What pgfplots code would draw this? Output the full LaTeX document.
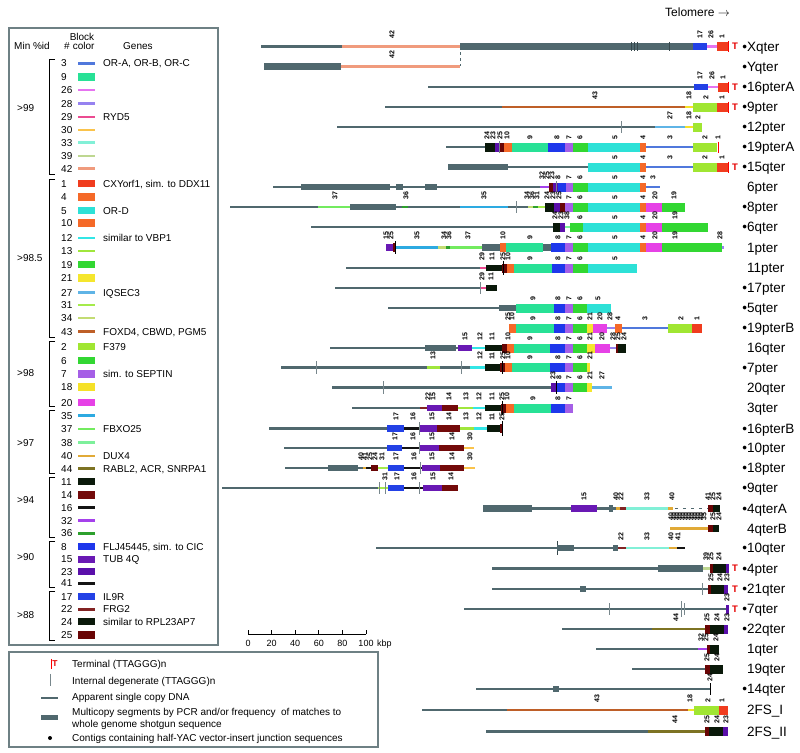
\documentclass[border=0pt]{standalone}
\usepackage{pgfplots}
\pgfplotsset{compat=1.18}
\usepackage{fontspec}
\setmainfont{Liberation Sans}
\definecolor{dna}{RGB}{80,104,110}
\definecolor{dnad}{RGB}{55,72,76}
\definecolor{dnal}{RGB}{120,135,140}
\definecolor{boxc}{RGB}{110,128,132}
\definecolor{b1}{RGB}{240,60,30}
\definecolor{b2}{RGB}{160,230,50}
\definecolor{b3}{RGB}{80,120,220}
\definecolor{b4}{RGB}{245,105,40}
\definecolor{b5}{RGB}{45,225,215}
\definecolor{b6}{RGB}{50,215,50}
\definecolor{b7}{RGB}{165,95,230}
\definecolor{b8}{RGB}{30,55,235}
\definecolor{b9}{RGB}{40,225,150}
\definecolor{b10}{RGB}{245,105,40}
\definecolor{b11}{RGB}{10,25,10}
\definecolor{b12}{RGB}{50,230,230}
\definecolor{b13}{RGB}{160,230,60}
\definecolor{b14}{RGB}{115,10,10}
\definecolor{b15}{RGB}{105,25,180}
\definecolor{b16}{RGB}{20,20,20}
\definecolor{b17}{RGB}{35,65,230}
\definecolor{b18}{RGB}{245,225,40}
\definecolor{b19}{RGB}{50,215,50}
\definecolor{b20}{RGB}{230,65,230}
\definecolor{b21}{RGB}{245,230,45}
\definecolor{b22}{RGB}{130,35,35}
\definecolor{b23}{RGB}{90,15,170}
\definecolor{b24}{RGB}{10,25,10}
\definecolor{b25}{RGB}{105,5,5}
\definecolor{b26}{RGB}{230,115,240}
\definecolor{b27}{RGB}{95,180,230}
\definecolor{b28}{RGB}{150,130,240}
\definecolor{b29}{RGB}{235,75,145}
\definecolor{b30}{RGB}{250,195,75}
\definecolor{b31}{RGB}{165,235,75}
\definecolor{b32}{RGB}{165,65,235}
\definecolor{b33}{RGB}{130,240,215}
\definecolor{b34}{RGB}{195,220,115}
\definecolor{b35}{RGB}{45,170,225}
\definecolor{b36}{RGB}{45,160,45}
\definecolor{b37}{RGB}{115,235,95}
\definecolor{b38}{RGB}{125,240,155}
\definecolor{b39}{RGB}{190,215,145}
\definecolor{b40}{RGB}{225,170,55}
\definecolor{b41}{RGB}{20,20,20}
\definecolor{b42}{RGB}{240,155,125}
\definecolor{b43}{RGB}{190,95,40}
\definecolor{b44}{RGB}{125,115,35}
% thin line, block, small block, multicopy
\newcommand{\tl}[4]{\addplot[draw=#4,line width=2.3pt] coordinates {(#1,#3) (#2,#3)};}
\newcommand{\bk}[4]{\addplot[draw=#4,line width=9pt] coordinates {(#1,#3) (#2,#3)};}
\newcommand{\bs}[4]{\addplot[draw=#4,line width=6.5pt] coordinates {(#1,#3) (#2,#3)};}
\newcommand{\mc}[3]{\addplot[draw=dna,line width=6.5pt] coordinates {(#1,#3) (#2,#3)};}
\newcommand{\dv}[3]{\addplot[draw=dnal,line width=0.8pt] coordinates {(#1,#2) (#1,#3)};}
\newcommand{\dd}[3]{\addplot[draw=dnad,line width=0.8pt] coordinates {(#1,#2) (#1,#3)};}
\newcommand{\kv}[3]{\addplot[draw=black,line width=0.8pt] coordinates {(#1,#2) (#1,#3)};}
\newcommand{\tv}[3]{\addplot[draw=red,line width=1pt] coordinates {(#1,#2) (#1,#3)};}
% legend swatches
\newcommand{\lt}[2]{\addplot[draw=#2,line width=2.5pt] coordinates {(78,#1) (95,#1)};}
\newcommand{\lb}[2]{\addplot[draw=#2,line width=7.5pt] coordinates {(78,#1) (95,#1)};}
% labels
\newcommand{\lf}{\fontsize{7}{7}\selectfont\bfseries}
\newcommand{\labs}[2]{\foreach \xx/\tt in {#2} {\node[rotate=90,anchor=west,inner sep=0pt,font=\lf] at (\xx,#1-7.5) {\tt};}}
\newcommand{\rld}[2]{\node[anchor=base west,inner sep=0pt,font=\fontsize{13.5}{13.5}\selectfont] at (747,#1+4.6) {\llap{\textbullet}#2};}
\newcommand{\rln}[2]{\node[anchor=base west,inner sep=0pt,font=\fontsize{13.5}{13.5}\selectfont] at (747,#1+4.6) {#2};}
\newcommand{\TT}[1]{\node[anchor=center,inner sep=0pt,text=red!90!black,font=\fontsize{9.5}{9.5}\selectfont\bfseries] at (735,#1) {T};}
\newcommand{\lgn}[3]{\node[anchor=base west,inner sep=0pt,font=\fontsize{10}{10}\selectfont] at (61,#1+3.6) {#2};\node[anchor=base west,inner sep=0pt,font=\fontsize{10}{10}\selectfont] at (103,#1+3.6) {#3};}
\begin{document}
\begin{tikzpicture}
\begin{axis}[at={(0,0)},anchor=south west,scale only axis,width=800pt,height=752pt,
 xmin=0,xmax=800,ymin=0,ymax=752,y dir=reverse,hide axis,clip=false]
% Row 0 Xqter
\tl{261}{342}{46.5}{dna}\tl{342}{460}{46.5}{b42}\mc{460}{693}{46.5}
\dd{631}{42}{51}\dd{634}{42}{51}\dd{637}{42}{51}\dd{669}{42}{51}
\bs{693}{707}{46.5}{b17}\tl{707}{717}{46.5}{b26}\bk{717}{728}{46.5}{b1}\tv{728}{41}{52}
% Row 1 Yqter
\mc{264}{341}{66.5}\tl{341}{460}{66.5}{b42}
\addplot[draw=dna,line width=0.9pt,dashed] coordinates {(460,46.5) (460,66.5)};
% Row 2 16pterA
\tl{428}{694}{87}{dna}\bs{694}{708}{87}{b17}\tl{708}{718}{87}{b26}\bk{718}{728}{87}{b1}\tv{728}{81.5}{92.5}
% Row 3 9pter
\tl{385}{502}{107}{dna}\tl{502}{685}{107}{b43}\tl{685}{693}{107}{b18}\bk{693}{717}{107}{b2}\bk{717}{728}{107}{b1}\tv{728}{101.5}{112.5}
% Row 4 12pter
\tl{337}{655}{127}{dna}\dv{621}{121}{133}\tl{655}{685}{127}{b27}\tl{685}{693}{127}{b18}\bk{693}{702}{127}{b2}
% Row 5 19pterA
\tl{446}{485}{147}{dna}\bk{485}{495}{147}{b24}\bk{495}{500}{147}{b23}\bk{500}{504}{147}{b25}\bk{504}{512}{147}{b10}
\bk{512}{548}{147}{b9}\bk{548}{565}{147}{b8}\bk{565}{573}{147}{b7}\bk{573}{588}{147}{b6}\bk{588}{640}{147}{b5}
\bk{640}{646}{147}{b4}\tl{646}{693}{147}{b3}\bk{693}{717}{147}{b2}\tv{718}{141.5}{152.5}\dv{499}{141}{153}
% Row 6 15qter
\mc{448}{508}{167}\tl{508}{588}{167}{dna}\bk{588}{640}{167}{b5}\bk{640}{646}{167}{b4}\tl{646}{693}{167}{b3}
\bk{693}{717}{167}{b2}\bk{717}{728}{167}{b1}\tv{728}{161.5}{172.5}
% Row 7 6pter
\tl{273}{540}{187}{dna}\mc{301}{390}{187}\mc{396}{403}{187}\mc{425}{437}{187}
\tl{540}{549}{187}{b32}\bk{549}{553}{187}{b25}\bk{553}{558}{187}{b23}\bk{558}{566}{187}{b8}\bk{566}{573}{187}{b7}
\bk{573}{588}{187}{b6}\bk{588}{640}{187}{b5}\bk{640}{646}{187}{b4}\tl{646}{660}{187}{b3}\dv{556}{181}{193}
% Row 8 8pter
\tl{230}{318}{207}{dna}\tl{318}{350}{207}{b37}\mc{350}{396}{207}\tl{396}{402}{207}{dna}\tl{402}{408}{207}{b36}
\tl{408}{460}{207}{dna}\tl{460}{508}{207}{b35}\tl{508}{528}{207}{dna}\dv{516}{201}{213}
\tl{528}{533}{207}{b34}\tl{533}{538}{207}{b36}\tl{538}{545}{207}{b31}
\bk{545}{554}{207}{b24}\bk{554}{560}{207}{b23}\bk{560}{565}{207}{b25}\bk{565}{573}{207}{b7}\bk{573}{588}{207}{b6}
\bk{588}{640}{207}{b5}\bk{640}{646}{207}{b4}\bk{646}{662}{207}{b20}\bk{662}{685}{207}{b19}
% Row 9 6qter
\tl{311}{553}{227}{dna}\bk{553}{560}{227}{b24}\bk{560}{565}{227}{b23}\tl{565}{570}{227}{b38}\bk{570}{583}{227}{b6}
\bk{583}{640}{227}{b5}\bk{640}{646}{227}{b4}\bk{646}{662}{227}{b20}\bk{662}{708}{227}{b19}
% Row 10 1pter
\bs{386}{393}{247.5}{b15}\bk{393}{396}{247.5}{b25}\kv{395}{241}{254}\tl{396}{438}{247.5}{b35}\tl{438}{446}{247.5}{b34}
\tl{446}{450}{247.5}{b36}\tl{450}{482}{247.5}{b37}\mc{482}{500}{247.5}\bk{500}{506}{247.5}{b10}\bk{506}{543}{247.5}{b9}
\mc{543}{551}{247.5}\bk{551}{565}{247.5}{b8}\bk{565}{573}{247.5}{b7}\bk{573}{588}{247.5}{b6}\bk{588}{640}{247.5}{b5}
\bk{640}{646}{247.5}{b4}\bk{646}{662}{247.5}{b20}\bk{662}{722}{247.5}{b19}\tl{722}{724}{247.5}{b28}
% Row 11 11pter
\tl{346}{480}{268}{dna}\tl{480}{486}{268}{b29}\bs{486}{502}{268}{b11}\bk{502}{507}{268}{b25}\bk{507}{514}{268}{b10}
\bk{514}{552}{268}{b9}\bk{552}{565}{268}{b8}\bk{565}{573}{268}{b7}\bk{573}{588}{268}{b6}\bk{588}{637}{268}{b5}\kv{503}{261}{275}
% Row 12 17pter
\tl{335}{480}{288}{dna}\tl{480}{486}{288}{b29}\bs{486}{497}{288}{b11}\dv{480}{282}{294}
% Row 13 5qter
\tl{388}{499}{308}{dna}\mc{499}{516}{308}\bk{516}{554}{308}{b9}\bk{554}{565}{308}{b8}\bk{565}{573}{308}{b7}
\bk{573}{587}{308}{b6}\bk{587}{611}{308}{b5}
% Row 14 19pterB
\bk{509}{516}{328}{b10}\bk{516}{554}{328}{b9}\bk{554}{565}{328}{b8}\bk{565}{573}{328}{b7}\bk{573}{587}{328}{b6}
\bk{587}{593}{328}{b21}\bk{593}{607}{328}{b20}\tl{607}{615}{328}{b28}\bk{615}{622}{328}{b4}\tl{622}{668}{328}{b3}
\bk{668}{692}{328}{b2}\bk{692}{702}{328}{b1}
% Row 15 16qter
\tl{330}{458}{348}{dna}\mc{425}{456}{348}\bs{458}{472}{348}{b15}\tl{472}{485}{348}{b12}\bs{485}{502}{348}{b11}
\bk{502}{507}{348}{b25}\bk{507}{514}{348}{b10}\bk{514}{550}{348}{b9}\bk{550}{565}{348}{b8}\bk{565}{573}{348}{b7}
\bk{573}{587}{348}{b6}\bk{587}{595}{348}{b21}\bk{595}{610}{348}{b20}\tl{610}{616}{348}{b28}\bk{616}{618}{348}{b25}\bk{618}{626}{348}{b24}
% Row 16 7pter
\tl{281}{470}{367.5}{dna}\dv{316}{361}{374}\tl{427}{440}{367.5}{b13}\dv{461}{361}{374}\tl{470}{485}{367.5}{b12}
\bs{485}{500}{367.5}{b11}\bk{500}{505}{367.5}{b25}\bk{505}{512}{367.5}{b10}\bk{512}{550}{367.5}{b9}\bk{550}{565}{367.5}{b8}
\bk{565}{573}{367.5}{b7}\bk{573}{587}{367.5}{b6}\bk{587}{590}{367.5}{b21}\kv{502}{361}{374}
% Row 17 20qter
\tl{332}{551}{387.5}{dna}\dv{383}{381}{394}\bk{551}{556}{387.5}{b23}\bk{556}{565}{387.5}{b8}\kv{556}{381}{394}
\bk{565}{573}{387.5}{b7}\bk{573}{587}{387.5}{b6}\bk{587}{592}{387.5}{b21}\tl{592}{612}{387.5}{b27}
% Row 18 3qter
\tl{352}{420}{408}{dna}\tl{420}{427}{408}{b22}\bs{427}{442}{408}{b15}\bs{442}{458}{408}{b14}\tl{458}{473}{408}{b13}
\tl{473}{485}{408}{b12}\bs{485}{501}{408}{b11}\bk{501}{506}{408}{b25}\bk{506}{514}{408}{b10}\bk{514}{551}{408}{b9}
\bk{551}{565}{408}{b8}\bk{565}{573}{408}{b7}\kv{502}{401}{415}
% Row 19 16pterB
\tl{269}{387}{428.5}{dna}\bs{387}{404}{428.5}{b17}\tl{404}{420}{428.5}{b16}\bs{420}{437}{428.5}{b15}\bs{437}{460}{428.5}{b14}
\tl{460}{474}{428.5}{b13}\tl{474}{487}{428.5}{b12}\bs{487}{500}{428.5}{b11}\bk{500}{503}{428.5}{b25}\dv{419}{422}{435}\kv{502}{421}{436}
% Row 20 10pter
\tl{284}{387}{448}{dna}\bs{387}{402}{448}{b17}\tl{402}{420}{448}{b16}\bs{420}{439}{448}{b15}\bs{439}{464}{448}{b14}
\tl{464}{474}{448}{b30}\dv{419}{442}{454}
% Row 21 18pter
\tl{285}{363}{468}{dna}\mc{328}{358}{468}\tl{363}{366}{468}{b40}\tl{366}{371}{468}{b41}\bs{371}{378}{468}{b25}
\tl{378}{388}{468}{b31}\bs{388}{404}{468}{b17}\tl{404}{422}{468}{b16}\bs{422}{440}{468}{b15}\bs{440}{464}{468}{b14}
\tl{464}{475}{468}{b30}\dv{420}{462}{474}
% Row 22 9qter
\tl{222}{378}{488}{dna}\tl{378}{388}{488}{b31}\dv{379}{482}{494}\dv{385}{482}{494}\bs{388}{404}{488}{b17}
\tl{404}{423}{488}{b16}\dv{419}{482}{494}\bs{423}{442}{488}{b15}\bs{442}{458}{488}{b14}
% Row 23 4qterA
\mc{483}{532}{508.5}\tl{532}{616}{508.5}{dna}\bs{571}{597}{508.5}{b15}\mc{609}{613}{508.5}\tl{616}{620}{508.5}{b40}
\tl{620}{626}{508.5}{b22}\tl{626}{668}{508.5}{b33}\tl{668}{673}{508.5}{b40}
\addplot[draw=dna,line width=1.5pt,dash pattern=on 3pt off 5pt] coordinates {(675,508.5) (708,508.5)};
\bs{708}{713}{508.5}{b25}\bs{713}{720}{508.5}{b24}
% Row 24 4qterB
\addplot[draw=b40,line width=3pt] coordinates {(670,528.5) (708,528.5)};
\bs{708}{713}{528.5}{b25}\bs{713}{719}{528.5}{b24}
% Row 25 10qter
\tl{376}{616}{548}{dna}\dd{557}{541}{555}\mc{557}{574}{548}\mc{613}{618}{548}\tl{618}{626}{548}{b22}
\tl{626}{669}{548}{b33}\tl{669}{677}{548}{b40}\tl{677}{685}{548}{b41}
% Row 26 4pter
\tl{492}{658}{568.5}{dna}\mc{658}{703}{568.5}\tl{703}{710}{568.5}{b39}\bk{710}{713}{568.5}{b25}\bk{713}{726}{568.5}{b24}
\bk{726}{729}{568.5}{b23}
% Row 27 21qter
\tl{492}{708}{589}{dna}\mc{580}{586}{589}\dv{702}{583}{595}\bk{708}{711}{589}{b25}\bk{711}{724}{589}{b24}\bk{724}{728}{589}{b23}
% Row 28 7qter
\tl{464}{727}{609}{dna}\dv{609}{603}{615}\dv{681}{601}{617}\dv{684}{603}{615}\bk{726}{729}{609}{b23}
% Row 29 22qter
\tl{562}{652}{629}{dna}\tl{652}{705}{629}{b44}\bk{705}{710}{629}{b25}\bk{710}{724}{629}{b24}\bk{724}{728}{629}{b23}
% Row 30 1qter
\tl{596}{698}{649}{dna}\tl{698}{707}{649}{b32}\bk{707}{710}{649}{b25}\bk{710}{719}{649}{b24}
% Row 31 19qter
\tl{632}{705}{669}{dna}\bk{705}{710}{669}{b25}\bk{710}{723}{669}{b24}
% Row 32 14qter
\tl{476}{710}{689}{dna}\mc{553}{559}{689}\kv{710}{683}{695}
% Row 33 2FS_I
\tl{422}{507}{710}{dna}\tl{507}{688}{710}{b43}\tl{688}{694}{710}{b18}\bk{694}{719}{710}{b2}\bk{719}{728}{710}{b1}
% Row 34 2FS_II
\tl{486}{648}{731.5}{dna}\tl{648}{705}{731.5}{b44}\bk{705}{709}{731.5}{b25}\bk{709}{723}{731.5}{b24}\bk{723}{728}{731.5}{b23}
% legend swatches
\lt{63.3}{b3}\lb{77}{b9}\lt{90}{b26}\lt{103.5}{b28}\lt{117}{b29}\lt{130}{b30}\lt{142.5}{b33}\lt{156}{b39}\lt{168.5}{b42}
\lb{183.5}{b1}\lb{197}{b4}\lb{210.7}{b5}\lb{223}{b10}\lt{238}{b12}\lt{251}{b13}\lb{264.5}{b19}\lb{278}{b21}
\lt{292.7}{b27}\lt{305}{b31}\lt{318}{b34}\lt{331.7}{b43}
\lb{346.7}{b2}\lb{360.7}{b6}\lb{374}{b7}\lb{387}{b18}\lb{402.7}{b20}
\lt{415.7}{b35}\lt{429}{b37}\lt{442.7}{b38}\lt{456}{b40}\lt{468.7}{b44}
\lb{481.7}{b11}\lb{495}{b14}\lt{507.7}{b16}\lt{520.7}{b32}\lt{533.3}{b36}
\lb{546.7}{b8}\lb{559.3}{b15}\lb{571.7}{b23}\lt{583.3}{b41}
\lb{596.7}{b17}\lt{609.3}{b22}\lb{621.7}{b24}\lb{635}{b25}
\end{axis}
\begin{scope}[x=1pt,y=-1pt,yshift=752pt]
% block number labels
\labs{46.5}{392/42,700/17,711/26,722/1}
\labs{66.5}{392/42}
\labs{87}{700/17,712/26,723/1}
\labs{107}{595/43,689/18,706/2,722/1}
\labs{127}{670/27,689/18,698/2}
\labs{147}{487/24,493/23,500/25,507/10,530/9,557/8,569/7,580/6,615/5,643/4,670/3,705/2,718/1}
\labs{167}{615/5,643/4,670/3,705/2,722/1}
\labs{187}{542/32,547/25,552/23,558/8,569/7,580/6,615/5,643/4,653/3}
\labs{207}{335/37,406/36,484/35,527/34,532/36,537/31,547/24,553/23,559/25,569/7,580/6,615/5,643/4,655/20,674/19}
\labs{227}{555/24,561/23,567/38,580/6,615/5,643/4,655/20,675/19}
\labs{247.5}{386/15,391/25,417/35,444/34,449/36,468/37,503/10,530/9,558/8,569/7,580/6,615/5,643/4,655/20,675/19,720/28}
\labs{268}{482/29,492/11,503/25,508/10,530/9,558/8,569/7,580/6,615/5}
\labs{288}{482/29,491/11}
\labs{308}{533/9,558/8,569/7,580/6,598/5}
\labs{328}{508/25,512/10,533/9,558/8,569/7,580/6,590/21,600/20,610/28,618/4,645/3,681/2,697/1}
\labs{348}{465/15,480/12,492/11,508/10,530/9,558/8,569/7,580/6,590/21,602/20,613/28,618/25,624/24}
\labs{367.5}{433/13,480/12,492/11,503/25,508/10,530/9,558/8,569/7,580/6,590/21}
\labs{387.5}{553/23,559/8,569/7,580/6,590/21,602/27}
\labs{408}{428/22,433/15,449/14,466/13,479/12,492/11,502/25,507/10,533/9,558/8,569/7}
\labs{428.5}{396/17,413/16,432/15,449/14,466/13,479/12,492/11,502/25}
\labs{448}{395/17,413/16,432/15,452/14,470/30}
\labs{468}{361/40,365/41,370/25,375/24,382/31,396/17,414/16,432/15,452/14,470/30}
\labs{488}{385/31,397/17,414/16,433/15,451/14}
\labs{508.5}{584/15,616/40,621/22,647/33,672/40,708/41,713/25,719/24}
\labs{528.5}{671/40,674/40,677/40,680/40,683/40,686/40,689/40,692/40,695/40,698/40,701/40,704/35,713/25,719/24}
\labs{548}{621/22,647/33,671/40,678/41}
\labs{568.5}{706/39,711/25,719/24}
\labs{589}{711/25,720/24,727/23}
\labs{609}{727/23}
\labs{629}{676/44,707/25,717/24,727/23}
\labs{649}{701/32,706/25,716/24}
\labs{669}{707/25,717/24}
\labs{689}{710/24}
\labs{710}{597/43,690/18,708/2,722/1}
\labs{731.5}{675/44,707/25,717/24,726/23}
% T markers
\TT{46.5}\TT{87}\TT{107}\TT{167}\TT{568.5}\TT{589}\TT{609}
% row labels
\rld{46.5}{Xqter}\rld{66.5}{Yqter}\rld{87}{16pterA}\rld{107}{9pter}\rld{127}{12pter}\rld{147}{19pterA}\rld{167}{15qter}
\rln{187}{6pter}\rld{207}{8pter}\rld{227}{6qter}\rln{247.5}{1pter}\rln{268}{11pter}\rld{288}{17pter}\rld{308}{5qter}
\rld{328}{19pterB}\rln{348}{16qter}\rld{367.5}{7pter}\rln{387.5}{20qter}\rln{408}{3qter}\rld{428.5}{16pterB}
\rld{448}{10pter}\rld{468}{18pter}\rld{488}{9qter}\rld{508.5}{4qterA}\rln{528.5}{4qterB}\rld{548}{10qter}
\rld{568.5}{4pter}\rld{589}{21qter}\rld{609}{7qter}\rld{629}{22qter}\rln{649}{1qter}\rln{669}{19qter}
\rld{689}{14qter}\rln{710}{2FS\_I}\rln{731.5}{2FS\_II}
% Telomere
\node[anchor=base west,inner sep=0pt,font=\fontsize{12}{12}\selectfont] at (665,16.5) {Telomere $\rightarrow$};
% legend box
\draw[boxc,line width=1.3pt] (9,28) rectangle (218,645);
\node[anchor=base west,inner sep=0pt,font=\fontsize{10}{10}\selectfont] at (14,49.5) {Min \%id};
\node[anchor=base,inner sep=0pt,font=\fontsize{10}{10}\selectfont] at (82,40.5) {Block};
\node[anchor=base west,inner sep=0pt,font=\fontsize{10}{10}\selectfont] at (64,49.5) {\#\hspace{3pt}color};
\node[anchor=base west,inner sep=0pt,font=\fontsize{10}{10}\selectfont] at (123,49.5) {Genes};
\lgn{63.3}{3}{OR-A, OR-B, OR-C}\lgn{77}{9}{}\lgn{90}{26}{}\lgn{103.5}{28}{}\lgn{117}{29}{RYD5}\lgn{130}{30}{}
\lgn{142.5}{33}{}\lgn{156}{39}{}\lgn{168.5}{42}{}
\lgn{183.5}{1}{CXYorf1, sim. to DDX11}\lgn{197}{4}{}\lgn{210.7}{5}{OR-D}\lgn{223}{10}{}\lgn{238}{12}{similar to VBP1}
\lgn{251}{13}{}\lgn{264.5}{19}{}\lgn{278}{21}{}\lgn{292.7}{27}{IQSEC3}\lgn{305}{31}{}\lgn{318}{34}{}\lgn{331.7}{43}{FOXD4, CBWD, PGM5}
\lgn{346.7}{2}{F379}\lgn{360.7}{6}{}\lgn{374}{7}{sim. to SEPTIN}\lgn{387}{18}{}\lgn{402.7}{20}{}
\lgn{415.7}{35}{}\lgn{429}{37}{FBXO25}\lgn{442.7}{38}{}\lgn{456}{40}{DUX4}\lgn{468.7}{44}{RABL2, ACR, SNRPA1}
\lgn{481.7}{11}{}\lgn{495}{14}{}\lgn{507.7}{16}{}\lgn{520.7}{32}{}\lgn{533.3}{36}{}
\lgn{546.7}{8}{FLJ45445, sim. to CIC}\lgn{559.3}{15}{TUB 4Q}\lgn{571.7}{23}{}\lgn{583.3}{41}{}
\lgn{596.7}{17}{IL9R}\lgn{609.3}{22}{FRG2}\lgn{621.7}{24}{similar to RPL23AP7}\lgn{635}{25}{}
% brackets
\foreach \ta/\tb/\ly/\lt in {59.5/174/112/{>99},179/337/262/{>98.5},341/406/377/{>98},410/473/447/{>97},477/537/504/{>94},541/587/561/{>90},591/640/619/{>88}}{
 \draw[black,line width=0.9pt] (55,\ta) -- (49,\ta) -- (49,\tb) -- (55,\tb);
 \node[anchor=base west,inner sep=0pt,font=\fontsize{10}{10}\selectfont] at (17,\ly) {\lt};
}
% scale bar
\draw[black,line width=0.8pt] (248,634.5) -- (366,634.5);
\foreach \sx/\sl in {248/0,271.6/20,295.2/40,318.8/60,342.4/80,366/100}{
 \draw[black,line width=0.8pt] (\sx,634.5) -- (\sx,630.5);
 \node[anchor=base,inner sep=0pt,font=\fontsize{9}{9}\selectfont] at (\sx,647) {\sl};
}
\node[anchor=base west,inner sep=0pt,font=\fontsize{9}{9}\selectfont] at (377,647) {kbp};
% bottom legend
\draw[boxc,line width=1.3pt] (9,652) rectangle (378,747);
\node[anchor=center,inner sep=0pt,text=red!90!black,font=\fontsize{8.5}{8.5}\selectfont\bfseries] at (55,664) {T};
\draw[red,line width=0.8pt] (51,659) -- (51,669);
\draw[dnal,line width=0.6pt] (50,674) -- (50,686);
\draw[dna,line width=2.2pt] (41,698) -- (58,698);
\draw[dna,line width=5pt] (41,717) -- (58,717);
\fill[black] (50,738) circle (2pt);
\node[anchor=base west,inner sep=0pt,font=\fontsize{10}{10}\selectfont] at (72,667.5) {Terminal (TTAGGG)n};
\node[anchor=base west,inner sep=0pt,font=\fontsize{10}{10}\selectfont] at (72,684.5) {Internal degenerate (TTAGGG)n};
\node[anchor=base west,inner sep=0pt,font=\fontsize{10}{10}\selectfont] at (72,701) {Apparent single copy DNA};
\node[anchor=base west,inner sep=0pt,font=\fontsize{10}{10}\selectfont] at (72,715.5) {Multicopy segments by PCR and/or frequency\ \ of matches to};
\node[anchor=base west,inner sep=0pt,font=\fontsize{10}{10}\selectfont] at (72,727.5) {whole genome shotgun sequence};
\node[anchor=base west,inner sep=0pt,font=\fontsize{10}{10}\selectfont] at (72,741.5) {Contigs containing half-YAC vector-insert junction sequences};
\end{scope}
\pgfresetboundingbox
\useasboundingbox (0,0) rectangle (800pt,752pt);
\end{tikzpicture}
\end{document}
